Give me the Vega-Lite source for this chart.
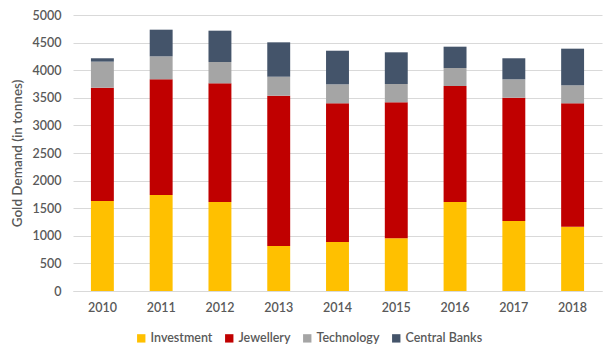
{
  "$schema": "https://vega.github.io/schema/vega-lite/v6.json",
  "autosize": {"type": "none"},
  "width": 529,
  "height": 276,
  "padding": {"left": 73, "top": 15, "right": 14, "bottom": 65},
  "background": "white",
  "data": {"values": [
    {"year": "2010", "cat": "Investment", "v": 1630},
    {"year": "2010", "cat": "Jewellery", "v": 2053},
    {"year": "2010", "cat": "Technology", "v": 472},
    {"year": "2010", "cat": "Central Banks", "v": 61},
    {"year": "2011", "cat": "Investment", "v": 1739},
    {"year": "2011", "cat": "Jewellery", "v": 2096},
    {"year": "2011", "cat": "Technology", "v": 416},
    {"year": "2011", "cat": "Central Banks", "v": 483},
    {"year": "2012", "cat": "Investment", "v": 1612},
    {"year": "2012", "cat": "Jewellery", "v": 2150},
    {"year": "2012", "cat": "Technology", "v": 387},
    {"year": "2012", "cat": "Central Banks", "v": 567},
    {"year": "2013", "cat": "Investment", "v": 815},
    {"year": "2013", "cat": "Jewellery", "v": 2723},
    {"year": "2013", "cat": "Technology", "v": 344},
    {"year": "2013", "cat": "Central Banks", "v": 623},
    {"year": "2014", "cat": "Investment", "v": 888},
    {"year": "2014", "cat": "Jewellery", "v": 2512},
    {"year": "2014", "cat": "Technology", "v": 344},
    {"year": "2014", "cat": "Central Banks", "v": 609},
    {"year": "2015", "cat": "Investment", "v": 954},
    {"year": "2015", "cat": "Jewellery", "v": 2464},
    {"year": "2015", "cat": "Technology", "v": 332},
    {"year": "2015", "cat": "Central Banks", "v": 574},
    {"year": "2016", "cat": "Investment", "v": 1612},
    {"year": "2016", "cat": "Jewellery", "v": 2102},
    {"year": "2016", "cat": "Technology", "v": 326},
    {"year": "2016", "cat": "Central Banks", "v": 386},
    {"year": "2017", "cat": "Investment", "v": 1268},
    {"year": "2017", "cat": "Jewellery", "v": 2234},
    {"year": "2017", "cat": "Technology", "v": 333},
    {"year": "2017", "cat": "Central Banks", "v": 381},
    {"year": "2018", "cat": "Investment", "v": 1165},
    {"year": "2018", "cat": "Jewellery", "v": 2235},
    {"year": "2018", "cat": "Technology", "v": 326},
    {"year": "2018", "cat": "Central Banks", "v": 664}
  ]},
  "transform": [
    {"calculate": "indexof(['Investment','Jewellery','Technology','Central Banks'], datum.cat)", "as": "stackOrder"}
  ],
  "mark": {"type": "bar"},
  "encoding": {
    "x": {
      "field": "year", "type": "ordinal", "title": null,
      "scale": {"paddingInner": 0.61, "paddingOuter": 0.305},
      "axis": {"labelAngle": 0, "ticks": false, "domainColor": "#d9d9d9", "labelColor": "#595959", "labelFont": "Lato", "labelFontSize": 12.5, "labelFontWeight": 600, "labelPadding": 10}
    },
    "y": {
      "field": "v", "type": "quantitative", "stack": "zero",
      "title": "Gold Demand (in tonnes)",
      "scale": {"domain": [0, 5000], "nice": false},
      "axis": {"values": [0,500,1000,1500,2000,2500,3000,3500,4000,4500,5000], "format": "d", "domain": false, "ticks": false, "gridColor": "#d9d9d9", "labelColor": "#595959", "labelFont": "Lato", "labelFontSize": 12.5, "labelFontWeight": 600, "labelPadding": 12, "titleColor": "#595959", "titleFont": "Lato", "titleFontSize": 13.5, "titleFontWeight": 600, "titlePadding": 8}
    },
    "color": {
      "field": "cat", "type": "nominal",
      "sort": ["Investment", "Jewellery", "Technology", "Central Banks"],
      "scale": {"domain": ["Investment", "Jewellery", "Technology", "Central Banks"], "range": ["#FFC000", "#C00000", "#A5A5A5", "#44546A"]},
      "legend": {"title": null, "orient": "none", "direction": "horizontal", "legendX": 62, "legendY": 317, "symbolType": "square", "symbolSize": 70, "symbolStrokeWidth": 0, "labelColor": "#595959", "labelFont": "Lato", "labelFontSize": 12.5, "labelFontWeight": 600, "columnPadding": 10, "labelOffset": 3}
    },
    "order": {"field": "stackOrder", "type": "quantitative"}
  },
  "config": {"view": {"stroke": null}}
}
